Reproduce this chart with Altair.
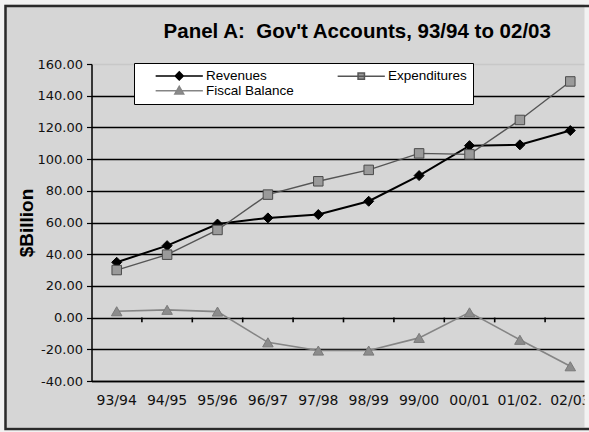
import altair as alt
import pandas as pd

# Fiscal years and government accounts ($ billion)
periods = ["93/94", "94/95", "95/96", "96/97", "97/98", "98/99", "99/00", "00/01", "01/02.", "02/03"]
revenues = [34.9, 45.4, 59.0, 62.9, 65.0, 73.4, 89.6, 108.5, 109.0, 118.0]
expenditures = [30.0, 39.7, 55.3, 77.6, 86.0, 93.2, 103.6, 103.0, 124.7, 149.0]
fiscal_balance = [4.0, 4.9, 3.8, -15.6, -20.8, -20.8, -12.8, 3.3, -14.0, -30.7]

series_names = ["Revenues", "Expenditures", "Fiscal Balance"]
# legend entries fill column by column
legend_order = ["Revenues", "Fiscal Balance", "Expenditures"]
y_ticks = [-40, -20, 0, 20, 40, 60, 80, 100, 120, 140, 160]

# styling per series
line_colors = {"Revenues": "#000000", "Expenditures": "#555555", "Fiscal Balance": "#858585"}
line_widths = {"Revenues": 2.0, "Expenditures": 1.4, "Fiscal Balance": 1.6}
marker_shapes = {"Revenues": "diamond", "Expenditures": "square", "Fiscal Balance": "triangle-up"}
marker_fills = {"Revenues": "#000000", "Expenditures": "#9a9a9a", "Fiscal Balance": "#8c8c8c"}
marker_strokes = {"Revenues": "#000000", "Expenditures": "#4a4a4a", "Fiscal Balance": "#7a7a7a"}
marker_sizes = {"Revenues": 100, "Expenditures": 90, "Fiscal Balance": 110}

# legend glyphs: a short line with the marker in its middle
legend_paths = {
    "Revenues": "M-5.9,0H5.9M0,-1L1,0L0,1L-1,0Z",
    "Expenditures": "M-5.9,0H5.9M-0.8,-0.8H0.8V0.8H-0.8Z",
    "Fiscal Balance": "M-5.9,0H5.9M0,-1.1L1.1,0.8H-1.1Z",
}

W, H = 497.5, 317
Y_MIN, Y_MAX = -40, 160

rows = []
for name, vals in zip(series_names, [revenues, expenditures, fiscal_balance]):
    for p, v in zip(periods, vals):
        rows.append({"period": p, "series": name, "value": v})
df = pd.DataFrame(rows)

x_scale = alt.Scale(type="band", domain=periods, range=[0, 504], paddingInner=0, paddingOuter=0)
y_scale = alt.Scale(domain=[Y_MIN, Y_MAX], nice=False, zero=False)

label_expr = "replace(format(datum.value, '.2f'), '\u2212', '-')"


def y_axis():
    return alt.Axis(
        title="$Billion", values=y_ticks, labelExpr=label_expr, labelOverlap=False,
        grid=True, gridWidth=1.5,
        gridColor={"condition": {"test": "datum.value === 160", "value": "#c8c8c8"}, "value": "#000000"},
        domainColor="#000000", domainWidth=1.5,
        tickColor="#000000", tickSize=5, tickWidth=1.2,
        labelFont="DejaVu Sans", labelFontSize=13, labelColor="#111111", labelPadding=4,
        titleFont="Liberation Sans", titleFontSize=19, titleFontWeight="bold", titleColor="#000000",
        titleAngle=270, titleX=-65.5, titleY=H / 2, titleAlign="center", titleBaseline="middle",
    )


def x_axis():
    return alt.Axis(
        title=None, orient="bottom", ticks=False, domain=True, domainColor="#000000", domainWidth=1.5,
        labelFont="DejaVu Sans", labelFontSize=14, labelColor="#111111", labelPadding=12, labelAngle=0,
        labelOverlap=False, grid=False,
    )


layers = []
for name in series_names:
    sub = df[df["series"] == name]
    line = alt.Chart(sub).mark_line(color=line_colors[name], strokeWidth=line_widths[name]).encode(
        x=alt.X("period:N", scale=x_scale, sort=periods, axis=x_axis()),
        y=alt.Y("value:Q", scale=y_scale, axis=y_axis()),
    )
    pts = alt.Chart(sub).mark_point(
        shape=marker_shapes[name], filled=True, fill=marker_fills[name], stroke=marker_strokes[name],
        strokeWidth=1, size=marker_sizes[name], opacity=1,
    ).encode(
        x=alt.X("period:N", scale=x_scale, sort=periods, axis=x_axis()),
        y=alt.Y("value:Q", scale=y_scale, axis=y_axis()),
    )
    layers += [line, pts]

# short tick marks hanging below the zero line, between the years
tick_df = pd.DataFrame({"period": periods[1:]})
zero_ticks = alt.Chart(tick_df).mark_rule(color="#000000", strokeWidth=1.6).encode(
    x=alt.X("period:N", scale=x_scale, sort=periods, bandPosition=0, axis=x_axis()),
    y=alt.YDatum(0, type="quantitative", scale=y_scale, axis=y_axis()),
    y2=alt.Y2Datum(-3),
)

legend_layer = alt.Chart(df).transform_filter("false").mark_point(filled=True, opacity=1).encode(
    fill=alt.Fill(
        "series:N",
        scale=alt.Scale(domain=legend_order, range=[marker_fills[s] for s in legend_order]),
        legend=alt.Legend(
            title=None, orient="none", legendX=42.5, legendY=-1, columns=2,
            columnPadding=28, rowPadding=0, padding=6,
            strokeColor="#000000", fillColor="#ffffff",
            labelFont="Liberation Sans", labelFontSize=13.5, labelColor="#000000",
            labelExpr="datum.label == 'Expenditures' ? datum.label + '\u00a0\u00a0\u00a0\u00a0\u00a0' : datum.label",
            symbolSize=64, symbolStrokeWidth=1.5, symbolOffset=32.5, labelOffset=20,
        ),
    ),
    stroke=alt.Stroke("series:N", scale=alt.Scale(domain=legend_order, range=[line_colors[s] for s in legend_order])),
    shape=alt.Shape("series:N", scale=alt.Scale(domain=legend_order, range=[legend_paths[s] for s in legend_order])),
)

frame_df = pd.DataFrame({"k": [0]})
outer_strip = alt.Chart(frame_df).mark_rect(fillOpacity=0, stroke="#f2f2f2", strokeWidth=9).encode(
    x=alt.value(-91.5), x2=alt.value(589 - 91.5), y=alt.value(-64), y2=alt.value(432 - 64),
)
frame = alt.Chart(frame_df).mark_rect(fillOpacity=0, stroke="#2a2a2a", strokeWidth=2.5).encode(
    x=alt.value(-86), x2=alt.value(620), y=alt.value(-58), y2=alt.value(365),
)

chart = alt.layer(*layers, zero_ticks, legend_layer, outer_strip, frame).properties(
    width=W, height=H,
    autosize=alt.AutoSizeParams(type="none"),
    padding={"left": 91.5, "top": 64, "right": 0, "bottom": 51},
    background="#d6d6d6",
    title=alt.TitleParams(
        text="Panel A:\u00a0 Gov't Accounts, 93/94 to 02/03",
        font="Liberation Sans", fontSize=20.5, fontWeight="bold", color="#000000",
        anchor="middle", frame="group", dx=17, baseline="alphabetic", offset=-63,
    ),
).configure_view(fill="#ffffff", stroke="transparent")

chart.save("out.html", embed_options={"renderer": "svg", "actions": False})
